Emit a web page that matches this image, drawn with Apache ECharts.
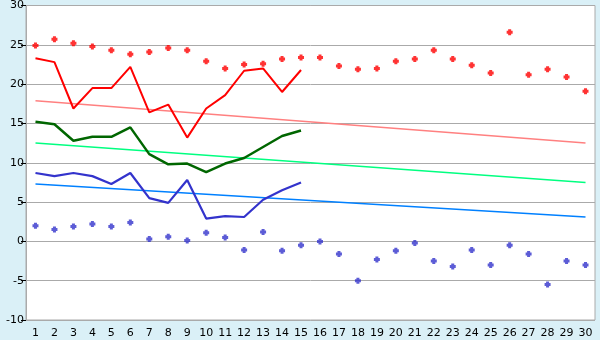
<!DOCTYPE html>
<html>
<head>
<meta charset="utf-8">
<script src="https://cdn.jsdelivr.net/npm/echarts@6/dist/echarts.min.js"></script>
<style>
html,body{margin:0;padding:0;background:#daf0f7;}
#c{width:600px;height:340px;}
</style>
</head>
<body>
<div id="c"></div>
<script>
var days = ['1','2','3','4','5','6','7','8','9','10','11','12','13','14','15','16','17','18','19','20','21','22','23','24','25','26','27','28','29','30'];
var recordMax = [24.9,25.7,25.2,24.8,24.3,23.8,24.1,24.6,24.3,22.9,22.0,22.5,22.6,23.2,23.4,23.4,22.3,21.9,22.0,22.9,23.2,24.3,23.2,22.4,21.4,26.6,21.2,21.9,20.9,19.1];
var recordMin = [2.0,1.5,1.9,2.2,1.9,2.4,0.3,0.6,0.1,1.1,0.5,-1.1,1.2,-1.2,-0.5,0.0,-1.6,-5.0,-2.3,-1.2,-0.2,-2.5,-3.2,-1.1,-3.0,-0.5,-1.6,-5.5,-2.5,-3.0];
var maxTemp = [23.3,22.8,16.9,19.5,19.5,22.2,16.4,17.4,13.2,16.9,18.6,21.7,22.0,19.0,21.8];
var meanTemp = [15.2,14.9,12.8,13.3,13.3,14.5,11.1,9.8,9.9,8.8,9.9,10.6,12.0,13.4,14.1];
var minTemp = [8.7,8.3,8.7,8.3,7.3,8.7,5.5,4.9,7.8,2.9,3.2,3.1,5.3,6.5,7.5];
var normalMaxEnds = [17.9,12.5];
var normalMeanEnds = [12.5,7.5];
var normalMinEnds = [7.3,3.1];
var yTicks = {min:-10,max:30,interval:5};

function trend(ends){
  var a = days.map(function(){return null;});
  a[0] = ends[0]; a[days.length-1] = ends[1];
  return a;
}
var plus = 'path://M1.5,0h3v1.5h1.5v3h-1.5v1.5h-3v-1.5h-1.5v-3h1.5z';
var chart = echarts.init(document.getElementById('c'));
chart.setOption({
  animation:false,
  backgroundColor:'#daf0f7',
  grid:{left:26,right:5,top:5,bottom:20,show:true,backgroundColor:'#ffffff',borderColor:'#aaaaaa',borderWidth:1},
  xAxis:{type:'category',data:days,boundaryGap:true,
    axisLine:{lineStyle:{color:'#aaaaaa'}},
    axisTick:{alignWithLabel:true,length:5,lineStyle:{color:'#000000'}},
    axisLabel:{color:'#000',fontFamily:'DejaVu Sans',fontSize:11,margin:8,interval:0},
    splitLine:{show:false}},
  yAxis:{type:'value',min:yTicks.min,max:yTicks.max,interval:yTicks.interval,
    axisLine:{show:true,lineStyle:{color:'#aaaaaa'}},
    axisTick:{show:true,length:5,lineStyle:{color:'#000000'}},
    axisLabel:{color:'#000',fontFamily:'DejaVu Sans',fontSize:11,margin:2},
    splitLine:{lineStyle:{color:'#aaaaaa'}}},
  series:[
    {type:'line',data:trend(normalMaxEnds),connectNulls:true,showSymbol:false,lineStyle:{color:'#ff8080',width:1.5}},
    {type:'line',data:trend(normalMeanEnds),connectNulls:true,showSymbol:false,lineStyle:{color:'#00ff80',width:1.5}},
    {type:'line',data:trend(normalMinEnds),connectNulls:true,showSymbol:false,lineStyle:{color:'#0080ff',width:1.5}},
    {type:'line',data:maxTemp,showSymbol:false,lineStyle:{color:'#ff0000',width:2}},
    {type:'line',data:meanTemp,showSymbol:false,lineStyle:{color:'#006600',width:2.5}},
    {type:'line',data:minTemp,showSymbol:false,lineStyle:{color:'#3333cc',width:2.2}},
    {type:'scatter',data:recordMax,symbol:plus,symbolSize:6,itemStyle:{color:'#ff0000'}},
    {type:'scatter',data:recordMin,symbol:plus,symbolSize:6,itemStyle:{color:'#3333cc'}}
  ]
});
</script>
</body>
</html>
